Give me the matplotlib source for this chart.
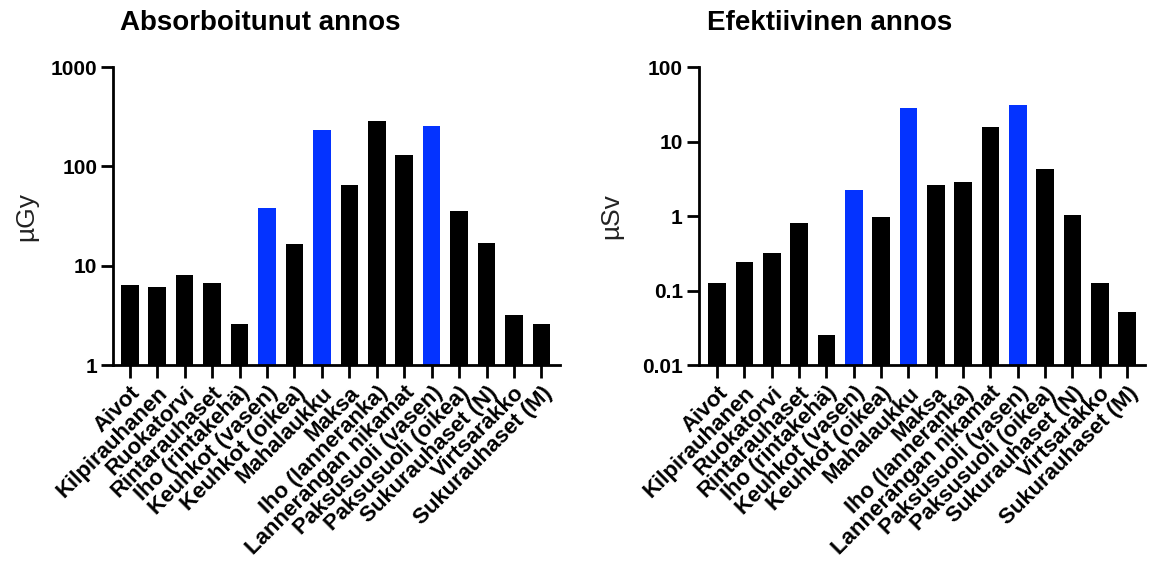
import matplotlib
matplotlib.use("Agg")
import matplotlib.pyplot as plt
from matplotlib.ticker import FixedLocator, FixedFormatter, NullLocator

plt.rcParams["font.family"] = ["Liberation Sans", "DejaVu Sans"]

ORGANS = [
    "Aivot", "Kilpirauhanen", "Ruokatorvi", "Rintarauhaset", "Iho (rintakehä)",
    "Keuhkot (vasen)", "Keuhkot (oikea)", "Mahalaukku", "Maksa", "Iho (lanneranka)",
    "Lannerangan nikamat", "Paksusuoli (vasen)", "Paksusuoli (oikea)",
    "Sukurauhaset (N)", "Virtsarakko", "Sukurauhaset (M)",
]
ABSORBED_UGY = [6.4, 6.1, 8.0, 6.7, 2.57, 37.8, 16.4, 232, 65, 284, 130, 255, 35.5, 17.1, 3.2, 2.57]
EFFECTIVE_USV = [0.127, 0.244, 0.322, 0.81, 0.0251, 2.27, 0.985, 28.0, 2.63, 2.83, 15.7, 31.1, 4.32, 1.02, 0.127, 0.051]
HIGHLIGHT = {"Keuhkot (vasen)", "Mahalaukku", "Paksusuoli (vasen)"}

LEFT_TICKS = [1, 10, 100, 1000]
LEFT_TICKLABELS = ["1", "10", "100", "1000"]
RIGHT_TICKS = [0.01, 0.1, 1, 10, 100]
RIGHT_TICKLABELS = ["0.01", "0.1", "1", "10", "100"]

BLUE = "#0433ff"
colors = [BLUE if o in HIGHLIGHT else "black" for o in ORGANS]

fig = plt.figure(figsize=(11.57, 5.68), dpi=100)
ax1 = fig.add_axes([0.0979, 0.357, 0.386, 0.525])
ax2 = fig.add_axes([0.604, 0.357, 0.386, 0.525])


def draw(ax, values, ticks, ticklabels, ylabel, title, title_x, left_pad, ylabel_x):
    x = list(range(len(ORGANS)))
    ax.bar(x, values, width=0.64, color=colors, edgecolor="none")
    ax.set_yscale("log")
    ax.set_ylim(ticks[0], ticks[-1])
    ax.set_xlim(-left_pad, len(ORGANS) - 1 + 0.67)
    ax.yaxis.set_major_locator(FixedLocator(ticks))
    ax.yaxis.set_major_formatter(FixedFormatter(ticklabels))
    ax.yaxis.set_minor_locator(NullLocator())
    ax.set_xticks(x)
    ax.set_xticklabels(ORGANS, rotation=45, ha="right", rotation_mode="anchor",
                       fontsize=16, fontweight="bold")
    for lab in ax.get_yticklabels():
        lab.set_fontsize(15)
        lab.set_fontweight("bold")
    for side in ("top", "right"):
        ax.spines[side].set_visible(False)
    for side in ("left", "bottom"):
        ax.spines[side].set_linewidth(2.0)
    ax.tick_params(axis="y", width=2.0, length=8.5, pad=3)
    ax.tick_params(axis="x", width=2.0, length=9.5, pad=3)
    ax.set_ylabel(ylabel, fontsize=19, color="#222222")
    ax.yaxis.set_label_coords(ylabel_x, 0.5)
    ax.text(title_x, 1.123, title, transform=ax.transAxes, ha="center", va="baseline",
            fontsize=20, fontweight="bold")


draw(ax1, ABSORBED_UGY, LEFT_TICKS, LEFT_TICKLABELS, "µGy", "Absorboitunut annos", 0.328, 0.6, -0.169)
draw(ax2, EFFECTIVE_USV, RIGHT_TICKS, RIGHT_TICKLABELS, "µSv", "Efektiivinen annos", 0.293, 0.67, -0.169)

fig.savefig("out.png", dpi=100, facecolor="white")
